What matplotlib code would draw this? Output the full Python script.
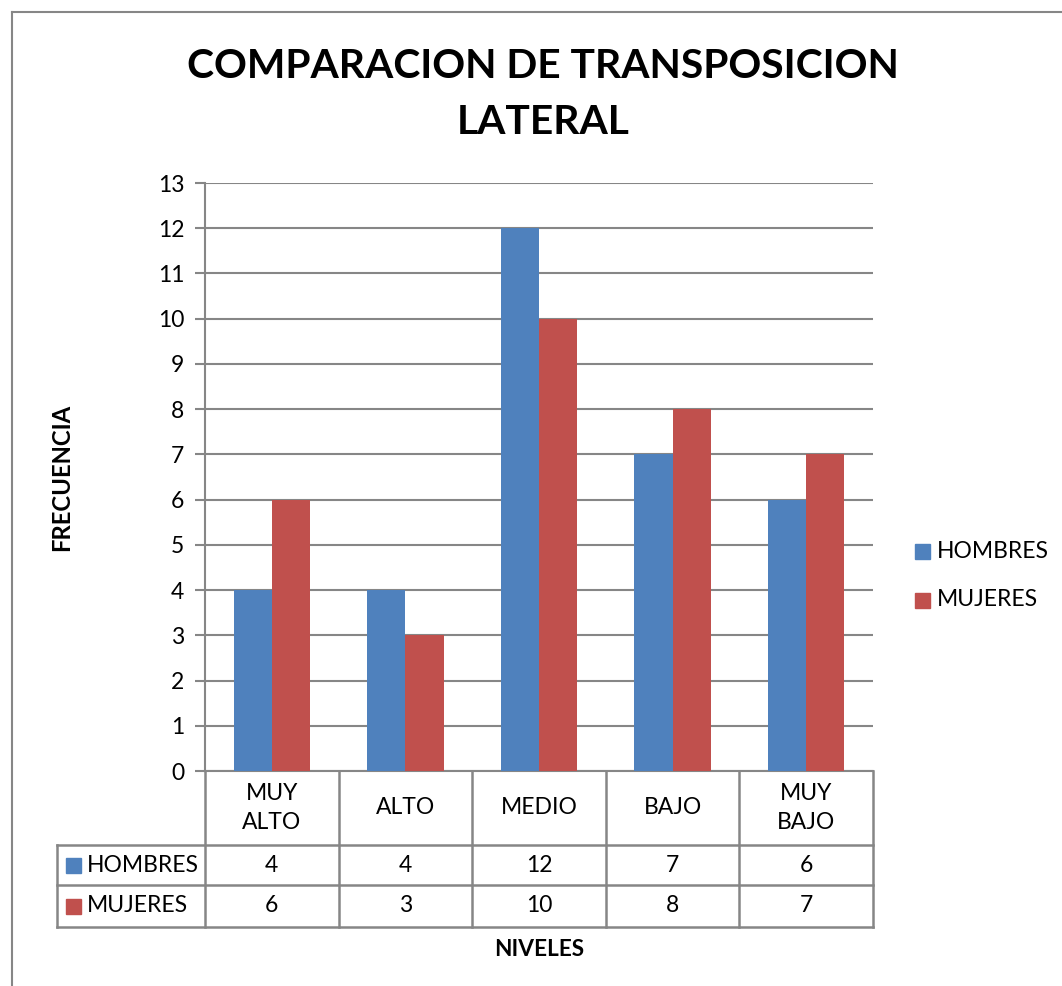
import matplotlib.pyplot as plt
from matplotlib.lines import Line2D
from matplotlib.patches import Rectangle
import numpy as np

plt.rcParams["font.family"] = ["Lato", "DejaVu Sans"]

categories = ["MUY\nALTO", "ALTO", "MEDIO", "BAJO", "MUY\nBAJO"]
hombres = [4, 4, 12, 7, 6]
mujeres = [6, 3, 10, 8, 7]
series_names = ["HOMBRES", "MUJERES"]
y_ticks = list(range(0, 14))

BLUE = "#4F81BD"
RED = "#C0504D"
GRID = "#868686"
FS = 16.5


def main():
    W, H = 1062, 986
    fig = plt.figure(figsize=(W / 100, H / 100), dpi=100)

    def fx(px):
        return px / W

    def fy(py):
        return 1 - py / H

    ax = fig.add_axes([fx(205), fy(771), fx(873) - fx(205), fy(183) - fy(771)])

    x = np.arange(len(categories))
    bw = 1 / 3.5
    ax.bar(x - bw / 2, hombres, bw, color=BLUE, label=series_names[0], zorder=3)
    ax.bar(x + bw / 2, mujeres, bw, color=RED, label=series_names[1], zorder=3)

    ax.set_xlim(-0.5, len(categories) - 0.5)
    ax.set_ylim(0, 13)
    ax.set_yticks(y_ticks)
    ax.set_xticks([])
    ax.tick_params(axis="y", length=7, width=1.5, color=GRID, labelsize=FS, pad=8)
    ax.yaxis.grid(True, color=GRID, linewidth=1.5, zorder=0)
    for s in ["top", "right"]:
        ax.spines[s].set_visible(False)
    for s in ["left", "bottom"]:
        ax.spines[s].set_color(GRID)
        ax.spines[s].set_linewidth(1.5)

    # data table under the axis
    tr = ax.transAxes
    ah = 588.0
    aw = 668.0
    r0, r1, r2, r3 = 0, -74 / ah, -114 / ah, -156 / ah
    xl = -148 / aw
    lk = dict(color=GRID, linewidth=1.8, transform=tr, clip_on=False)
    for i in range(len(categories) + 1):
        xv = i / len(categories)
        ax.add_line(Line2D([xv, xv], [r0, r3], **lk))
    for yv in (r1, r2, r3):
        ax.add_line(Line2D([xl, 1], [yv, yv], **lk))
    ax.add_line(Line2D([xl, xl], [r1, r3], **lk))

    n = len(categories)
    for i, cat in enumerate(categories):
        xc = (i + 0.5) / n
        ax.text(xc, (r0 + r1) / 2, cat, transform=tr, ha="center", va="center",
                fontsize=FS, linespacing=1.45)
        ax.text(xc, (r1 + r2) / 2, str(hombres[i]), transform=tr, ha="center",
                va="center", fontsize=FS)
        ax.text(xc, (r2 + r3) / 2, str(mujeres[i]), transform=tr, ha="center",
                va="center", fontsize=FS)

    for name, col, (ya, yb) in [(series_names[0], BLUE, (r1, r2)),
                                (series_names[1], RED, (r2, r3))]:
        yc = (ya + yb) / 2
        ax.add_patch(Rectangle((-139 / aw, yc - 8 / ah), 15 / aw, 15 / ah,
                               color=col, transform=tr, clip_on=False))
        ax.text(-118 / aw, yc, name, transform=tr, ha="left", va="center",
                fontsize=FS)

    # legend on the right
    for name, col, py in [(series_names[0], BLUE, 551), (series_names[1], RED, 600)]:
        fig.patches.append(Rectangle((fx(915), fy(py + 8)), fx(15), 15 / H,
                                     color=col, transform=fig.transFigure))
        fig.text(fx(937), fy(py), name, ha="left", va="center", fontsize=FS)

    fig.text(fx(543), fy(66), "COMPARACION DE TRANSPOSICION", ha="center",
             va="center", fontsize=29.3, fontweight="bold")
    fig.text(fx(543), fy(122), "LATERAL", ha="center", va="center",
             fontsize=29.3, fontweight="bold")
    fig.text(fx(62), fy(477), "FRECUENCIA", rotation=90, ha="center",
             va="center", fontsize=17.2, fontweight="bold")
    fig.text(fx(539), fy(950), "NIVELES", ha="center", va="center",
             fontsize=16.3, fontweight="bold")

    # chart frame
    fig.add_artist(Line2D([fx(12), fx(12)], [fy(12), 0], color=GRID,
                          linewidth=1.5, transform=fig.transFigure))
    fig.add_artist(Line2D([fx(12), 1], [fy(12), fy(12)], color=GRID,
                          linewidth=1.5, transform=fig.transFigure))

    fig.savefig("out.png", dpi=100)


if __name__ == "__main__":
    main()
